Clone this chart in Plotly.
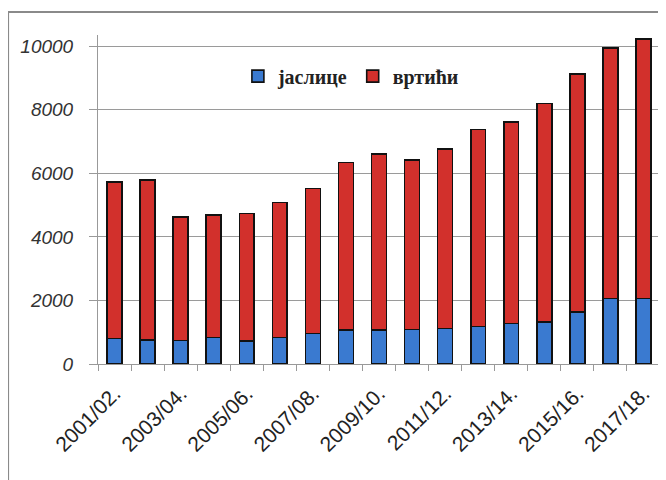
import plotly.graph_objects as go

# ---- data -------------------------------------------------------------

YEARS = ["2001/02.", "2002/03.", "2003/04.", "2004/05.", "2005/06.", "2006/07.",
         "2007/08.", "2008/09.", "2009/10.", "2010/11.", "2011/12.", "2012/13.",
         "2013/14.", "2014/15.", "2015/16.", "2016/17.", "2017/18."]
JASLICE = [800, 760, 740, 830, 715, 840, 965, 1070, 1070, 1090, 1120, 1175,
           1280, 1330, 1645, 2060, 2065]
VRTICI = [4930, 5030, 3890, 3865, 4025, 4245, 4560, 5275, 5535, 5325, 5640, 6205,
          6340, 6870, 7475, 7880, 8155]
Y_TICKS = [0, 2000, 4000, 6000, 8000, 10000]

# every other year gets a label, ticks still sit on every boundary
TICK_TEXT = [y if i % 2 == 0 else "" for i, y in enumerate(YEARS)]

# ---- plot -------------------------------------------------------------

fig = go.Figure()
fig.add_trace(go.Bar(x=YEARS, y=JASLICE, name="јаслице",
                     marker=dict(color="#3a7ad0", line=dict(color="#111111", width=1.6))))
fig.add_trace(go.Bar(x=YEARS, y=VRTICI, name="вртићи",
                     marker=dict(color="#d2302c", line=dict(color="#111111", width=1.6))))

# the page body has an 8px margin, so the figure is sized to fit after it
fig.update_layout(
    barmode="stack", bargap=0.55,
    width=658, height=472,
    margin=dict(l=90, r=6, t=27, b=116),
    paper_bgcolor="white", plot_bgcolor="white",
    showlegend=True,
    legend=dict(orientation="h", x=0.45, y=0.875, xanchor="center", yanchor="middle",
                font=dict(family="Liberation Serif", size=20, color="#222222", weight="bold"),
                bgcolor="rgba(0,0,0,0)", itemwidth=30, traceorder="normal"),
    xaxis=dict(type="category", tickvals=YEARS, ticktext=TICK_TEXT, tickangle=-45,
               tickson="boundaries", ticks="outside", ticklen=6, tickcolor="#999999",
               ticklabelstandoff=8,
               showline=True, linecolor="#999999", linewidth=1, showgrid=False,
               tickfont=dict(family="Liberation Sans", size=21, color="#222222")),
    yaxis=dict(range=[0, 10350], tickvals=Y_TICKS, ticktext=[str(v) for v in Y_TICKS],
               ticks="outside", ticklen=8, ticklabelstandoff=12,
               tickcolor="#999999", showline=True, linecolor="#999999", linewidth=1,
               showgrid=True, gridcolor="#9a9a9a", gridwidth=1, zeroline=False,
               tickfont=dict(family="Liberation Sans", size=19, color="#333333",
                             style="italic")),
)

# outer chart frame (top and left edges visible in the reference)
fig.add_shape(type="rect", xref="paper", yref="paper",
              x0=-0.160, x1=1.03, y0=-0.40, y1=1.070,
              line=dict(color="#8a8a8a", width=2), layer="below")

fig.write_html("out.html")
